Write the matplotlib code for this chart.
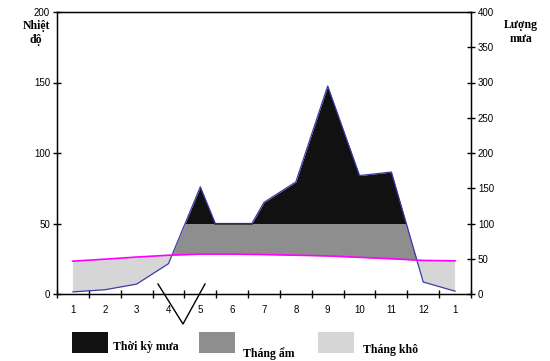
import numpy as np
import matplotlib
matplotlib.use("Agg")
import matplotlib.pyplot as plt
from matplotlib.lines import Line2D
from matplotlib.patches import Rectangle

# nhan truc hoanh: thang 1..12 roi lai thang 1
thang = ['1', '2', '3', '4', '5', '6', '7', '8', '9', '10', '11', '12', '1']

# nhiet do (do C, truc trai) theo tung thang
nhiet_do = [23.3, 24.7, 26.2, 27.5, 28.3, 28.3, 28.0, 27.5, 27.0, 26.0, 25.0, 23.8, 23.5]

# luong mua (mm, truc phai); vi tri theo thang, them 2 diem gay o thang 5-6
mua_vitri = [1, 2, 3, 4, 5, 5.47, 6, 6.62, 7, 8, 9, 10, 11, 12, 13]
luong_mua = [3, 6, 14, 43, 152, 100, 100, 100, 130, 159, 295, 168, 173, 17, 4]

nhan_chu_giai = ['Thời kỳ mưa', 'Tháng ẩm', 'Tháng khô']
mau = ['#111111', '#8e8e8e', '#d6d6d6']

fig = plt.figure(figsize=(5.5, 3.61), dpi=100)
ax = fig.add_axes([57/550, 67/361, 414/550, 282/361])

x_t = np.arange(len(thang))
x_m = np.array(mua_vitri) - 1
t = np.array(nhiet_do)
r = np.array(luong_mua) / 2.0   # doi sang thang do truc trai

xs = np.linspace(0, 12, 2401)
ti = np.interp(xs, x_t, t)
ri = np.interp(xs, x_m, r)

ax.fill_between(xs, ri, ti, where=ri <= ti, color=mau[2], lw=0, interpolate=True)
ax.fill_between(xs, ti, np.minimum(ri, 50), where=ri >= ti, color=mau[1], lw=0, interpolate=True)
ax.fill_between(xs, 50, ri, where=ri >= 50, color=mau[0], lw=0, interpolate=True)
ax.plot(x_m, r, color='#3b3ba8', lw=0.9)
# doan bang phang o 100 mm
ax.plot(x_m[5:8], r[5:8], color='#333333', lw=1.2)
ax.plot(x_t, t, color='#ff00ff', lw=1.2)

ax.set_xlim(-0.5, 12.5)
ax.set_ylim(0, 200)
ax.set_xticks(x_t)
ax.set_xticklabels(thang)
ax.set_xticks(np.arange(-0.5, 13, 1), minor=True)
ax.tick_params(axis='x', which='major', length=0, pad=8, labelsize=7)
ax.tick_params(axis='x', which='minor', direction='inout', length=6, width=1)
ax.set_yticks([0, 50, 100, 150, 200])
ax.tick_params(axis='y', direction='inout', length=6, width=1, pad=2, labelsize=7)
for s in ax.spines.values():
    s.set_linewidth(1.0)
for lab in ax.get_xticklabels() + ax.get_yticklabels():
    lab.set_family('Liberation Sans')

ax2 = ax.twinx()
ax2.set_ylim(0, 400)
ax2.set_yticks(np.arange(0, 401, 50))
ax2.tick_params(axis='y', direction='inout', length=6, width=1, pad=2, labelsize=7)
for lab in ax2.get_yticklabels():
    lab.set_family('Liberation Sans')

chu = dict(family='Liberation Serif', weight='bold', fontsize=8.5)
fig.text(36/550, 1 - 33/361, 'Nhiệt\nđộ', ha='center', va='center', linespacing=1.3, **chu)
fig.text(521/550, 1 - 32/361, 'Lượng\nmưa', ha='center', va='center', linespacing=1.3, **chu)

# dau chu V duoi truc
fig.add_artist(Line2D([158/550, 183/550, 205/550], [1 - 284/361, 1 - 324/361, 1 - 284/361],
                      color='black', lw=1.0, transform=fig.transFigure))

# chu giai
o_x = [72, 199, 318]
chu_x = [113, 243, 363]
chu_y = [347, 354, 350]
for i in range(3):
    fig.add_artist(Rectangle((o_x[i]/550, 1 - 353/361), 36/550, 21/361,
                             facecolor=mau[i], edgecolor='none', transform=fig.transFigure))
    fig.text(chu_x[i]/550, 1 - chu_y[i]/361, nhan_chu_giai[i], ha='left', va='center', **chu)

fig.savefig('out.png', dpi=100)
